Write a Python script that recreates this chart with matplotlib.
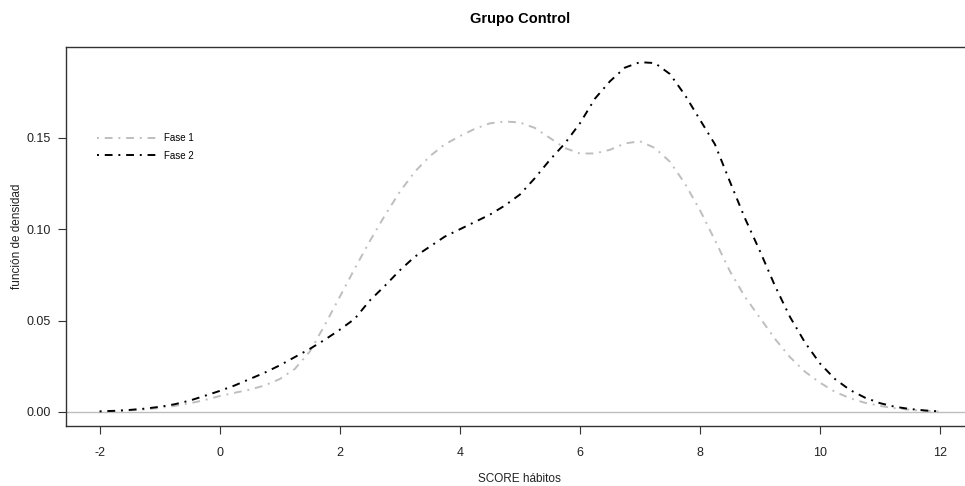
import matplotlib
matplotlib.use("Agg")
import matplotlib.pyplot as plt

plt.rcParams['font.family'] = ['Liberation Sans', 'DejaVu Sans']

# Kernel density estimates of the habits score, evaluated on a 0.25 grid
score = [-2.0, -1.75, -1.5, -1.25, -1.0, -0.75, -0.5, -0.25,
         0.0, 0.25, 0.5, 0.75, 1.0, 1.25, 1.5, 1.75,
         2.0, 2.25, 2.5, 2.75, 3.0, 3.25, 3.5, 3.75,
         4.0, 4.25, 4.5, 4.75, 5.0, 5.25, 5.5, 5.75,
         6.0, 6.25, 6.5, 6.75, 7.0, 7.25, 7.5, 7.75,
         8.0, 8.25, 8.5, 8.75, 9.0, 9.25, 9.5, 9.75,
         10.0, 10.25, 10.5, 10.75, 11.0, 11.25, 11.5, 11.75, 12.0]

fase1 = [0.0002, 0.0005, 0.0009, 0.0014, 0.0022, 0.0033, 0.0047, 0.0065,
         0.0087, 0.0105, 0.0122, 0.0145, 0.0180, 0.0235, 0.0330, 0.0475,
         0.0630, 0.0785, 0.0935, 0.1075, 0.1205, 0.1315, 0.1400, 0.1465,
         0.1510, 0.1550, 0.1580, 0.1590, 0.1585, 0.1555, 0.1500, 0.1445,
         0.1415, 0.1415, 0.1435, 0.1470, 0.1482, 0.1445, 0.1370, 0.1250,
         0.1105, 0.0940, 0.0770, 0.0630, 0.0515, 0.0400, 0.0300, 0.0220,
         0.0160, 0.0110, 0.0075, 0.0050, 0.0033, 0.0020, 0.0012, 0.0006, 0.0002]

fase2 = [0.0003, 0.0006, 0.0011, 0.0018, 0.0028, 0.0042, 0.0062, 0.0088,
         0.0115, 0.0145, 0.0180, 0.0215, 0.0255, 0.0300, 0.0345, 0.0395,
         0.0450, 0.0510, 0.0610, 0.0690, 0.0775, 0.0850, 0.0905, 0.0960,
         0.1000, 0.1040, 0.1080, 0.1130, 0.1190, 0.1280, 0.1380, 0.1470,
         0.1580, 0.1715, 0.1810, 0.1885, 0.1915, 0.1910, 0.1850, 0.1735,
         0.1600, 0.1465, 0.1260, 0.1060, 0.0880, 0.0690, 0.0520, 0.0380,
         0.0265, 0.0180, 0.0120, 0.0078, 0.0048, 0.0028, 0.0016, 0.0008, 0.0003]

series_names = ["Fase 1", "Fase 2"]
xticks = [-2, 0, 2, 4, 6, 8, 10, 12]
yticks = [0.00, 0.05, 0.10, 0.15]
ytick_labels = ["0.00", "0.05", "0.10", "0.15"]

W, H = 965, 486
fig = plt.figure(figsize=(W / 100, H / 100), dpi=100)
left, right, top, bottom = 66, 973.7, 47, 426
ax = fig.add_axes([left / W, 1 - bottom / H, (right - left) / W, (bottom - top) / H])

dotdash = (0, (1, 3, 4, 3))
ax.axhline(0, color="#bebebe", lw=1.0, zorder=1)
ax.plot(score, fase1, color="#bebebe", lw=1.4, linestyle=dotdash, label=series_names[0], zorder=2)
ax.plot(score, fase2, color="black", lw=1.4, linestyle=dotdash, label=series_names[1], zorder=3)

ax.set_xlim(-2.56, 12.56)
ax.set_ylim(-0.0077, 0.1998)
ax.set_xticks(xticks)
ax.set_xticklabels([str(t) for t in xticks])
ax.set_yticks(yticks)
ax.set_yticklabels(ytick_labels)
ax.tick_params(axis="both", direction="out", length=6, width=0.8, color="#333333",
               labelsize=9, labelcolor="#222222")
ax.tick_params(axis="x", pad=9)
ax.tick_params(axis="y", pad=5)
for s in ax.spines.values():
    s.set_color("#333333")
    s.set_linewidth(1.0)

ax.set_title("Grupo Control", fontsize=10.5, fontweight="bold", pad=17)
ax.set_xlabel("SCORE hábitos", fontsize=8.5, color="#222222", va="center")
ax.set_ylabel("función de densidad", fontsize=8.5, color="#222222", va="center")
ax.xaxis.set_label_coords(0.5, (426 - 479) / (bottom - top))
ax.yaxis.set_label_coords((17 - left) / (right - left), 0.5)

leg = ax.legend(loc="upper left", bbox_to_anchor=(0.025, 0.795), frameon=False,
                fontsize=7, handlelength=6.2, handletextpad=0.6, labelspacing=0.75)

fig.savefig("out.png", dpi=100)
